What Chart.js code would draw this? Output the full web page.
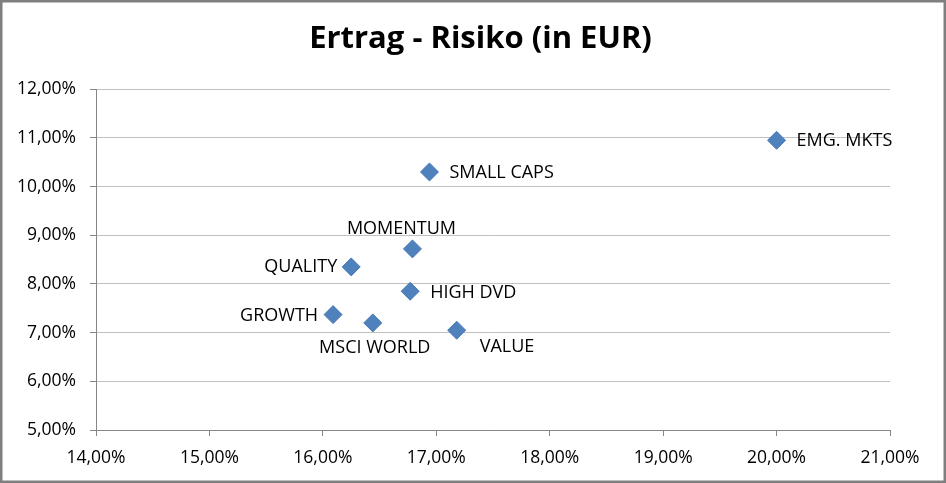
<!DOCTYPE html>
<html>
<head>
<meta charset="utf-8">
<script src="https://cdn.jsdelivr.net/npm/chart.js@4.4.1/dist/chart.umd.min.js"></script>
<style>
  html, body { margin: 0; padding: 0; background: #fff; }
  #wrap { width: 946px; height: 483px; }
</style>
</head>
<body>
<div id="wrap"><canvas id="riskChart" width="946" height="483"></canvas></div>
<script>
// Werte (Risiko = x, Ertrag = y, in %)
const names = ["EMG. MKTS", "SMALL CAPS", "MOMENTUM", "QUALITY", "HIGH DVD", "GROWTH", "MSCI WORLD", "VALUE"];
const risk = [20.00, 16.94, 16.79, 16.25, 16.77, 16.09, 16.44, 17.18];
const ret = [10.95, 10.30, 8.72, 8.35, 7.85, 7.37, 7.20, 7.05];
const xTicks = [14, 15, 16, 17, 18, 19, 20, 21];
const yTicks = [5, 6, 7, 8, 9, 10, 11, 12];

const FONT = "'Open Sans', 'Liberation Sans', sans-serif";
const pct = v => v.toFixed(2).replace(".", ",") + "%";

// wo die Beschriftung neben dem Punkt steht
const labelPlace = {
    "EMG. MKTS": { align: "left", dx: 20, dy: 1 },
    "SMALL CAPS": { align: "left", dx: 20, dy: 1 },
    "MOMENTUM": { align: "center", dx: -11, dy: -20 },
    "QUALITY": { align: "right", dx: -14, dy: 0 },
    "HIGH DVD": { align: "left", dx: 20, dy: 1.5 },
    "GROWTH": { align: "right", dx: -15, dy: 1.5 },
    "MSCI WORLD": { align: "center", dx: 2, dy: 25 },
    "VALUE": { align: "left", dx: 23, dy: 17 }
};

const frame = {
    id: "frame",
    beforeDraw(chart) {
        const ctx = chart.ctx;
        ctx.save();
        ctx.fillStyle = "#fff";
        ctx.fillRect(0, 0, chart.width, chart.height);
        ctx.restore();
    },
    afterDraw(chart) {
        const ctx = chart.ctx;
        ctx.save();
        ctx.strokeStyle = "#7f7f7f";
        ctx.lineWidth = 2.5;
        ctx.strokeRect(1.25, 1.25, chart.width - 2.5, chart.height - 2.5);
        ctx.restore();
    }
};

const pointLabels = {
    id: "pointLabels",
    afterDatasetsDraw(chart) {
        const ctx = chart.ctx;
        const meta = chart.getDatasetMeta(0);
        ctx.save();
        ctx.font = "18px " + FONT;
        ctx.fillStyle = "#000";
        ctx.textBaseline = "middle";
        meta.data.forEach((pt, i) => {
            const p = labelPlace[names[i]];
            ctx.textAlign = p.align;
            ctx.fillText(names[i], pt.x + p.dx, pt.y + p.dy);
        });
        ctx.restore();
    }
};

new Chart(document.getElementById("riskChart").getContext("2d"), {
    type: "scatter",
    data: {
        datasets: [{
            label: "Ertrag - Risiko",
            data: risk.map((x, i) => ({ x: x, y: ret[i] })),
            pointStyle: "rectRot",
            pointRadius: 9,
            pointHoverRadius: 9,
            backgroundColor: "#4f81bd",
            borderColor: "#4a7ab5",
            borderWidth: 1
        }]
    },
    options: {
        responsive: false,
        animation: false,
        layout: { padding: { left: 15, right: 0, top: 0, bottom: 0 } },
        plugins: {
            legend: { display: false },
            tooltip: { enabled: false },
            title: {
                display: true,
                text: "Ertrag - Risiko (in EUR)",
                color: "#000",
                font: { family: FONT, size: 31, weight: "bold" },
                padding: { top: 21, bottom: 31 }
            }
        },
        scales: {
            x: {
                type: "linear",
                min: 14,
                max: 21,
                afterBuildTicks: s => { s.ticks = xTicks.map(v => ({ value: v })); },
                afterFit: s => { s.height = 53; },
                grid: { drawOnChartArea: false, tickLength: 6, tickColor: "#868686" },
                border: { color: "#868686", width: 1 },
                ticks: {
                    color: "#000",
                    font: { family: FONT, size: 17.5 },
                    padding: 12,
                    maxRotation: 0,
                    callback: v => pct(v)
                }
            },
            y: {
                type: "linear",
                min: 5,
                max: 12,
                afterBuildTicks: s => { s.ticks = yTicks.map(v => ({ value: v })); },
                afterFit: s => { s.width = 81; },
                grid: { color: "#c0c0c0", tickLength: 6, tickColor: "#868686" },
                border: { color: "#868686", width: 1 },
                ticks: {
                    color: "#000",
                    font: { family: FONT, size: 17.5 },
                    padding: 14,
                    callback: v => pct(v)
                }
            },
            // leerer Rand rechts, damit der Titel mittig über dem ganzen Bild steht
            yRight: {
                type: "linear",
                position: "right",
                min: 5,
                max: 12,
                afterFit: s => { s.width = 56; },
                grid: { display: false },
                border: { display: false },
                ticks: { display: false }
            }
        }
    },
    plugins: [frame, pointLabels]
});
</script>
</body>
</html>
